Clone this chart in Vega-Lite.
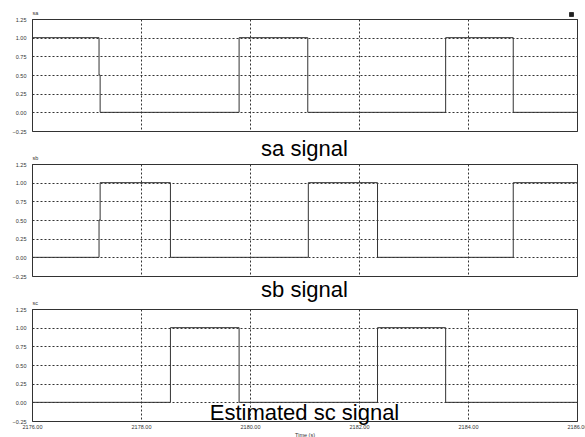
{
  "$schema": "https://vega.github.io/schema/vega-lite/v6.json",
  "autosize": {"type": "pad"},
  "padding": {"left": 11, "top": 9, "right": 0, "bottom": 0},
  "background": "white",
  "datasets": {
    "sa": [
      {"t": 2176.0, "v": 1}, {"t": 2177.23, "v": 0.5}, {"t": 2177.25, "v": 0},
      {"t": 2179.80, "v": 1}, {"t": 2181.06, "v": 0}, {"t": 2183.59, "v": 1},
      {"t": 2184.83, "v": 0}, {"t": 2186.0, "v": 0}
    ],
    "sb": [
      {"t": 2176.0, "v": 0}, {"t": 2177.23, "v": 0.5}, {"t": 2177.25, "v": 1},
      {"t": 2178.54, "v": 0}, {"t": 2181.07, "v": 1}, {"t": 2182.34, "v": 0},
      {"t": 2184.83, "v": 1}, {"t": 2186.0, "v": 1}
    ],
    "sc": [
      {"t": 2176.0, "v": 0}, {"t": 2178.54, "v": 1}, {"t": 2179.80, "v": 0},
      {"t": 2182.34, "v": 1}, {"t": 2183.59, "v": 0}, {"t": 2186.0, "v": 0}
    ]
  },
  "vconcat": [
    {
      "width": 545, "height": 112,
      "data": {"name": "sa"},
      "title": {"text": "sa signal", "orient": "bottom", "frame": "group", "offset": 21, "baseline": "alphabetic"},
      "mark": {"type": "line", "interpolate": "step-after", "strokeWidth": 1},
      "encoding": {
        "x": {"field": "t", "type": "quantitative", "scale": {"domain": [2176, 2186], "nice": false, "zero": false},
              "axis": {"labels": false, "ticks": false, "tickSize": 0, "domain": false, "title": null, "values": [2176, 2178, 2180, 2182, 2184, 2186]}},
        "y": {"field": "v", "type": "quantitative", "scale": {"domain": [-0.25, 1.25], "nice": false, "zero": false}, "title": "sa",
              "axis": {"values": [-0.25, 0, 0.25, 0.5, 0.75, 1, 1.25]}},
        "color": {"datum": "sa", "scale": {"range": ["#333333"]},
                  "legend": {"orient": "none", "legendX": 537, "legendY": -7, "symbolType": "square", "symbolSize": 16,
                             "symbolFillColor": "#222222", "symbolStrokeColor": "#222222", "symbolStrokeWidth": 1, "labelExpr": "''", "title": null, "padding": 0, "labelFontSize": 1}}
      }
    },
    {
      "width": 545, "height": 112,
      "data": {"name": "sb"},
      "title": {"text": "sb signal", "orient": "bottom", "frame": "group", "offset": 17, "baseline": "alphabetic"},
      "mark": {"type": "line", "interpolate": "step-after", "strokeWidth": 1, "color": "#333333"},
      "encoding": {
        "x": {"field": "t", "type": "quantitative", "scale": {"domain": [2176, 2186], "nice": false, "zero": false},
              "axis": {"labels": false, "ticks": false, "tickSize": 0, "domain": false, "title": null, "values": [2176, 2178, 2180, 2182, 2184, 2186]}},
        "y": {"field": "v", "type": "quantitative", "scale": {"domain": [-0.25, 1.25], "nice": false, "zero": false}, "title": "sb",
              "axis": {"values": [-0.25, 0, 0.25, 0.5, 0.75, 1, 1.25]}}
      }
    },
    {
      "width": 545, "height": 112,
      "data": {"name": "sc"},
      "title": {"text": "Estimated sc signal", "orient": "bottom", "frame": "group", "offset": -18, "baseline": "alphabetic"},
      "mark": {"type": "line", "interpolate": "step-after", "strokeWidth": 1, "color": "#333333"},
      "encoding": {
        "x": {"field": "t", "type": "quantitative", "scale": {"domain": [2176, 2186], "nice": false, "zero": false},
              "axis": {"format": ".2f", "ticks": false, "tickSize": 0, "domain": false, "title": "Time (s)", "values": [2176, 2178, 2180, 2182, 2184, 2186],
                       "labelPadding": 3, "labelFlush": false, "labelOverlap": false, "titlePadding": 3}},
        "y": {"field": "v", "type": "quantitative", "scale": {"domain": [-0.25, 1.25], "nice": false, "zero": false}, "title": "sc",
              "axis": {"values": [-0.25, 0, 0.25, 0.5, 0.75, 1, 1.25]}}
      }
    }
  ],
  "spacing": 33,
  "bounds": "flush",
  "config": {
    "font": "Liberation Sans",
    "view": {"stroke": "#333333", "strokeWidth": 1},
    "title": {"fontSize": 22, "fontWeight": "normal", "color": "#000000", "anchor": "middle", "font": "Liberation Sans"},
    "axis": {
      "grid": true, "gridColor": "#333333", "gridDash": [2, 2], "gridWidth": 1, "gridOpacity": 1,
      "labelFontSize": 5.5, "labelColor": "#333333", "titleFontSize": 5.5, "titleColor": "#333333", "titleFontWeight": "normal"
    },
    "axisY": {
      "format": ".2f", "ticks": false, "tickSize": 0, "domain": false, "labelOverlap": false,
      "labelPadding": 6, "titleAngle": 0, "titleAlign": "left", "titleBaseline": "alphabetic", "titleX": 0, "titleY": -5
    }
  }
}
